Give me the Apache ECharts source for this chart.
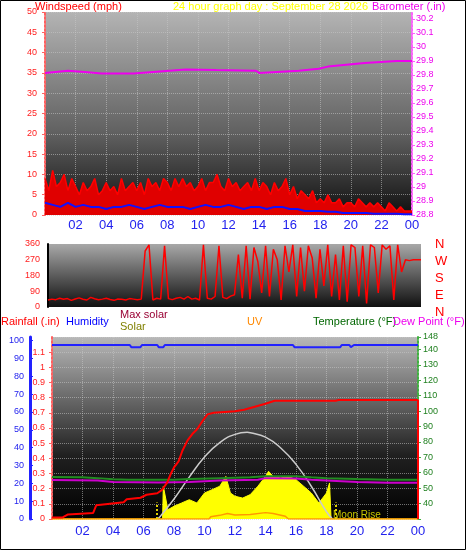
<!DOCTYPE html>
<html><head><meta charset="utf-8">
<script src="https://cdn.jsdelivr.net/npm/echarts@6/dist/echarts.min.js"></script>
<style>html,body{margin:0;padding:0;background:#fff}#c{width:466px;height:550px}</style>
</head><body><div id="c"></div>
<script>
// ---- data ----
const hourTicks = ['02','04','06','08','10','12','14','16','18','20','22','00'];
// wind gust (mph), every 15 minutes from 00:00
const windGust = [9,6,11,7, 8,10,6,9, 7,5,8,6, 7,9,5,6, 8,6,7,5, 9,6,7,8, 6,8,5,9, 7,8,6,9,
  8,6,9,7, 9,7,8,6, 7,9,6,8, 8,10,7,6, 9,7,8,6, 7,8,6,9, 6,8,7,5, 8,6,7,9, 5,7,4,6, 5,4,6,3,
  4,3,5,3, 3,4,2,3, 3,2,4,3, 2,3,2,3, 2,1,3,2, 1,2,1,1, 1];
// average wind speed (mph), every 30 minutes
const windAvg = [3,2.5,2,3,2,2.5,2,2,1.5,2,2,2.5,2,1.5,2,2.5,2,2,2,1.5,2,2.5,2,2,2.5,2,1.5,2,2,1.5,2,2,1.5,1.5,1,1,1,0.8,0.8,0.5,0.5,0.5,0.5,0.3,0.3,0.3,0.3,0.2,0.2];
// barometer [hour, inHg]
const baro = [[0,29.815],[1.5,29.83],[2.8,29.82],[3.7,29.81],[5.8,29.81],[7.5,29.825],[9.2,29.84],[11.2,29.835],[13.8,29.83],[14,29.815],[16.6,29.83],[17.9,29.845],[18.5,29.86],[20.9,29.885],[23,29.9],[24,29.9]];
// wind direction (deg), every 15 minutes
const windDir = [40,45,42,50,44,48,38,46,52,44,40,55,47,42,45,50,43,38,46,44,40,48,45,42,
  45,320,355,40, 50,45,350,48, 42,50,55,45, 60,45,50,40, 355,50,45,60, 350,55,48,62,
  70,300,50,350, 45,340,260,80, 350,60,330,270, 40,350,200,355, 60,340,90,350, 280,50,330,120,
  355,60,300,40, 350,30,355,340, 60,350,20,355, 340,80,355,330, 350,40,355,200, 270,265,270,270, 270];
// rainfall cumulative [hour, in]
const rain = [[0,0.01],[0.7,0.01],[1.05,0.03],[2.7,0.04],[2.9,0.09],[3.8,0.1],[4.7,0.11],[4.9,0.13],[5.8,0.14],[6.2,0.16],[6.9,0.17],[7.2,0.19],[7.55,0.24],[7.8,0.3],[8,0.34],[8.3,0.38],[8.55,0.45],[8.9,0.52],[9.2,0.56],[9.5,0.59],[9.9,0.65],[10.2,0.69],[10.6,0.7],[12,0.71],[12.6,0.72],[13.3,0.74],[14,0.76],[14.6,0.78],[18.6,0.78],[18.8,0.785],[24,0.785],[24,0]];
const humidity = [[0,97.5],[5.1,97.5],[5.2,96.3],[5.8,96.3],[5.9,97.5],[6.9,97.5],[7,96.3],[7.3,96.3],[7.4,97.5],[15.8,97.5],[15.9,96.3],[18.9,96.3],[19,97.5],[19.5,97.5],[19.6,96.3],[19.8,97.5],[24,97.5]];
const temperature = [[0,57.2],[2,57],[3,56.5],[4,55.8],[5,55.5],[8,55.5],[9,55.9],[11,56.5],[13,57],[14,57.7],[16,57.7],[17,57],[18,56.5],[20,55.9],[22,55.5],[24,55.5]];
const dewPoint = [[0,55.3],[3,55],[4,54],[7,53.6],[9,54],[11,55],[13.5,55.5],[14,56.5],[16,56.3],[17,55.5],[18,55],[20,54],[22,53.5],[24,53.5]];
const solar = [[0,0],[7.25,0],[7.3,180],[7.6,51],[8,70],[8.5,88],[9,106],[9.5,88],[10,143],[10.5,161],[11,180],[11.4,234],[11.7,143],[12,125],[12.5,115],[13,134],[13.5,180],[14,234],[14.2,262],[14.5,234],[15,225],[15.5,234],[16,216],[16.5,180],[17,143],[17.5,88],[18,143],[18.2,198],[18.3,0],[24,0]];
const maxSolar = [[6.9,0],[7,5],[8,110],[9,230],[10,340],[11,420],[12,465],[12.8,476],[13,474],[14,450],[15,390],[16,300],[17,180],[18,40],[18.4,0]];
const uv = [[0,0],[10.3,0],[10.4,0.12],[11,0.2],[11.5,0.3],[12,0.22],[13,0.25],[14,0.35],[14.5,0.3],[15.3,0.15],[15.5,0],[24,0]];
const sunTimes = [6.9, 18.6];

const q = (arr, step) => arr.map((v,i)=>[i*step, v]);
const hourFmt = v => { const i = hourTicks.indexOf(String(v%24).padStart(2,'0')); return (v>0 && i>=0) ? hourTicks[i] : ''; };
const F = 'Liberation Sans, Arial, sans-serif';
const dotted = {show:true, lineStyle:{color:'rgba(200,200,200,0.55)', type:'dotted'}};
const grad = (stops) => ({type:'linear',x:0,y:0,x2:0,y2:1,colorStops:stops});

const chart = echarts.init(document.getElementById('c'), null, {renderer:'canvas'});
chart.setOption({
  animation:false, backgroundColor:'#fff',
  textStyle:{fontFamily:F},
  grid:[
    {left:45,right:54,top:12,height:203,show:true,borderWidth:0,backgroundColor:grad([{offset:0,color:'#b4b4b4'},{offset:0.6,color:'#606060'},{offset:1,color:'#101010'}])},
    {left:48,right:45,top:244,height:63,show:true,borderWidth:0,backgroundColor:grad([{offset:0,color:'#a8a8a8'},{offset:1,color:'#101010'}])},
    {left:52,right:48,top:337,height:182,show:true,borderWidth:0,backgroundColor:grad([{offset:0,color:'#b8b8b8'},{offset:0.65,color:'#202020'},{offset:1,color:'#000'}])}
  ],
  xAxis:[
    {gridIndex:0,type:'value',min:0,max:24,interval:2,axisLine:{show:false},axisTick:{show:false},splitLine:dotted,
      axisLabel:{color:'#2222ee',fontSize:13,formatter:hourFmt,margin:4}},
    {gridIndex:1,type:'value',min:0,max:24,interval:2,axisLine:{show:false},axisTick:{show:false},splitLine:{show:false},axisLabel:{show:false}},
    {gridIndex:2,type:'value',min:0,max:24,interval:2,axisLine:{show:false},axisTick:{show:false},splitLine:dotted,
      axisLabel:{color:'#2222ee',fontSize:13,formatter:hourFmt,margin:6}}
  ],
  yAxis:[
    {gridIndex:0,type:'value',min:0,max:50,interval:5,position:'left',axisLine:{show:true,lineStyle:{color:'#ff6060',type:'dotted',width:2}},axisTick:{show:true,length:3,lineStyle:{color:'#ff6060'}},
      axisLabel:{color:'#ff2020',fontSize:9,margin:8},splitLine:dotted},
    {gridIndex:0,type:'value',min:28.8,max:30.25,interval:0.1,position:'right',axisLine:{show:true,lineStyle:{color:'#ff60ff',type:'dotted',width:2}},axisTick:{show:true,length:3,lineStyle:{color:'#ff60ff'}},
      axisLabel:{color:'#ee00ee',fontSize:9,margin:4,formatter:v=>(+v.toFixed(1)).toString()},splitLine:{show:false}},
    {gridIndex:1,type:'value',min:0,max:360,interval:90,position:'left',axisLine:{show:true,lineStyle:{color:'#000',width:2}},axisTick:{show:false},
      axisLabel:{color:'#ff2020',fontSize:9,margin:8},splitLine:{show:false}},
    {gridIndex:2,type:'value',min:0,max:1.2,interval:0.1,position:'left',axisLine:{show:true,lineStyle:{color:'#ff6060',type:'dotted',width:2}},axisTick:{show:true,length:3,lineStyle:{color:'#ff6060'}},
      axisLabel:{color:'#ff2020',fontSize:9,margin:7,showMaxLabel:false,formatter:v=>(+v.toFixed(1)).toString()},splitLine:dotted},
    {gridIndex:2,type:'value',min:0,max:102,interval:10,position:'left',offset:22,axisLine:{show:true,lineStyle:{color:'#2222ff',width:3}},axisTick:{show:true,length:3,inside:true,lineStyle:{color:'#2222ff'}},
      axisLabel:{color:'#2222ee',fontSize:9,margin:6},splitLine:{show:false}},
    {gridIndex:2,type:'value',min:30,max:148,interval:10,position:'right',axisLine:{show:true,lineStyle:{color:'#40b040',type:'dotted',width:2}},axisTick:{show:true,length:3,lineStyle:{color:'#40b040'}},
      axisLabel:{color:'#208020',fontSize:9,margin:5,formatter:v=>v<=30?'':v},splitLine:{show:false}},
    {gridIndex:2,type:'value',min:0,max:1000,show:false},
    {gridIndex:2,type:'value',min:0,max:10,show:false}
  ],
  series:[
    {type:'line',xAxisIndex:0,yAxisIndex:0,data:q(windGust,0.25),symbol:'none',lineStyle:{color:'#ff0000',width:1.5},areaStyle:{color:'#e00000',opacity:1}},
    {type:'line',xAxisIndex:0,yAxisIndex:0,data:q(windAvg,0.5),symbol:'none',lineStyle:{color:'#1010ff',width:2}},
    {type:'line',xAxisIndex:0,yAxisIndex:1,data:baro,symbol:'none',lineStyle:{color:'#ee00ee',width:2}},
    {type:'line',xAxisIndex:1,yAxisIndex:2,data:q(windDir,0.25),symbol:'none',lineStyle:{color:'#ff0000',width:1.5}},
    {type:'line',xAxisIndex:2,yAxisIndex:6,data:solar,symbol:'none',lineStyle:{color:'#ffff00',width:1},areaStyle:{color:'#ffff00',opacity:1},z:2,
      markLine:{symbol:'none',silent:true,label:{show:false},lineStyle:{color:'#e0d000',type:'dotted',width:2},
        data:sunTimes.map(t=>[{coord:[t,0]},{coord:[t,90]}])}},
    {type:'line',xAxisIndex:2,yAxisIndex:6,data:maxSolar,smooth:true,symbol:'none',lineStyle:{color:'#cccccc',width:1.5}},
    {type:'line',xAxisIndex:2,yAxisIndex:7,data:uv,symbol:'none',lineStyle:{color:'#ff9900',width:1.5},z:3},
    {type:'line',xAxisIndex:2,yAxisIndex:5,data:temperature,symbol:'none',lineStyle:{color:'#228b22',width:2}},
    {type:'line',xAxisIndex:2,yAxisIndex:5,data:dewPoint,symbol:'none',lineStyle:{color:'#cc00cc',width:2}},
    {type:'line',xAxisIndex:2,yAxisIndex:4,data:humidity,symbol:'none',lineStyle:{color:'#2222ff',width:2}},
    {type:'line',xAxisIndex:2,yAxisIndex:3,data:rain,symbol:'none',lineStyle:{color:'#ff0000',width:2},z:4}
  ],
  graphic:[
    {type:'rect',shape:{x:0.5,y:0.5,width:465,height:549},style:{fill:'none',stroke:'#000',lineWidth:1},silent:true},
    {type:'text',left:35,top:1,style:{text:'Windspeed (mph)',fill:'#ff0000',font:'11px '+F}},
    {type:'text',left:173,top:1,style:{text:'24 hour graph day : September 28 2026',fill:'#ffff00',font:'11px '+F}},
    {type:'text',left:372,top:1,style:{text:'Barometer (.in)',fill:'#ee00ee',font:'11px '+F}},
    {type:'text',left:435,top:236,style:{text:'N\nW\nS\nE\nN',fill:'#ff0000',font:'13px '+F,lineHeight:17}},
    {type:'text',left:1,top:316,style:{text:'Rainfall (.in)',fill:'#ff0000',font:'11px '+F}},
    {type:'text',left:66,top:316,style:{text:'Humidity',fill:'#0000ff',font:'11px '+F}},
    {type:'text',left:120,top:309,style:{text:'Max solar',fill:'#990033',font:'11px '+F}},
    {type:'text',left:120,top:321,style:{text:'Solar',fill:'#808000',font:'11px '+F}},
    {type:'text',left:247,top:316,style:{text:'UV',fill:'#ff8800',font:'11px '+F}},
    {type:'text',left:313,top:316,style:{text:'Temperature (°F)',fill:'#006600',font:'11px '+F}},
    {type:'text',left:393,top:316,style:{text:'Dew Point (°F)',fill:'#ee00ee',font:'11px '+F}},
    {type:'text',left:333,top:510,style:{text:'Moon Rise',fill:'#c8c800',font:'10px '+F}}
  ]
});
</script></body></html>
